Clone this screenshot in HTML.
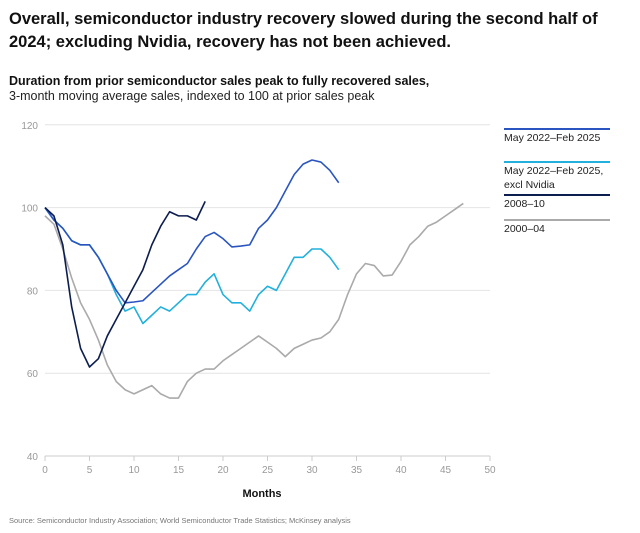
<!DOCTYPE html>
<html><head><meta charset="utf-8"><style>
body{margin:0;background:#fff;width:640px;height:533px;overflow:hidden;font-family:"Liberation Sans",sans-serif;}
svg{position:absolute;left:0;top:0}
</style></head><body>
<svg id="s" width="640" height="533" xmlns="http://www.w3.org/2000/svg" font-family="Liberation Sans, sans-serif">
<text x="9" y="24" font-size="16.5" font-weight="bold" fill="#111">Overall, semiconductor industry recovery slowed during the second half of</text>
<text x="9" y="47" font-size="16.5" font-weight="bold" fill="#111">2024; excluding Nvidia, recovery has not been achieved.</text>
<text x="9" y="85" font-size="12.5" font-weight="bold" fill="#111">Duration from prior semiconductor sales peak to fully recovered sales,</text>
<text x="9" y="100" font-size="12.5" fill="#222">3-month moving average sales, indexed to 100 at prior sales peak</text>
<g id="grid"></g>
<g id="lines"></g>
<line x1="504" x2="610" y1="129" y2="129" stroke="#2a55c0" stroke-width="2"/>
<text x="504" y="141" font-size="10.5" fill="#222">May 2022–Feb 2025</text>
<line x1="504" x2="610" y1="162" y2="162" stroke="#22b0dc" stroke-width="2"/>
<text x="504" y="174" font-size="10.5" fill="#222">May 2022–Feb 2025,</text>
<text x="504" y="188" font-size="10.5" fill="#222">excl Nvidia</text>
<line x1="504" x2="610" y1="195" y2="195" stroke="#0c1d4f" stroke-width="2"/>
<text x="504" y="207" font-size="10.5" fill="#222">2008–10</text>
<line x1="504" x2="610" y1="220" y2="220" stroke="#aaa" stroke-width="2"/>
<text x="504" y="232" font-size="10.5" fill="#222">2000–04</text>
<text x="262" y="497" font-size="11" font-weight="bold" text-anchor="middle" fill="#111">Months</text>
<text x="9" y="523" font-size="7.5" fill="#777">Source: Semiconductor Industry Association; World Semiconductor Trade Statistics; McKinsey analysis</text>
</svg>
<script>
var X=v=>45+v*8.9, Y=v=>456-(v-40)*4.14;
var g='';
[120,100,80,60].forEach(v=>{g+=`<line x1="45" x2="490" y1="${Y(v)}" y2="${Y(v)}" stroke="#e4e4e4" stroke-width="1"/><text x="38" y="${Y(v)+4}" font-size="10" fill="#999" text-anchor="end">${v}</text>`});
g+=`<line x1="45" x2="490" y1="456" y2="456" stroke="#ccc"/><text x="38" y="460" font-size="10" fill="#999" text-anchor="end">40</text>`;
for(var i=0;i<=50;i+=5){g+=`<line x1="${X(i)}" x2="${X(i)}" y1="456" y2="461" stroke="#ccc"/><text x="${X(i)}" y="473" font-size="10" fill="#999" text-anchor="middle">${i}</text>`}
document.getElementById('grid').innerHTML=g;
var d={
'#aaa':[98,96,90,83,77,73,68,62,58,56,55,56,57,55,54,54,58,60,61,61,63,64.5,66,67.5,69,67.5,66,64,66,67,68,68.5,70,73,79,84,86.5,86,83.5,83.7,87,91,93,95.5,96.5,98,99.5,101],
'#22b0dc':[100,97,95,92,91,91,88,84,79,75,76,72,74,76,75,77,79,79,82,84,79,77,77,75,79,81,80,84,88,88,90,90,88,85],
'#2a55c0':[100,97,95,92,91,91,88,84,80,77,77.2,77.5,79.5,81.5,83.5,85,86.5,90,93,94,92.5,90.5,90.7,91,95,97,100,104,108,110.5,111.5,111,109,106],
'#0c1d4f':[100,98,91,76,66,61.5,63.5,69,73,77,81,85,91,95.5,99,98,98,97,101.5]};
var l='';for(var c in d){l+=`<polyline fill="none" stroke="${c}" stroke-width="1.6" stroke-linejoin="round" points="${d[c].map((v,i)=>X(i)+','+Y(v)).join(' ')}"/>`}
document.getElementById('lines').innerHTML=l;
</script>
</body></html>
